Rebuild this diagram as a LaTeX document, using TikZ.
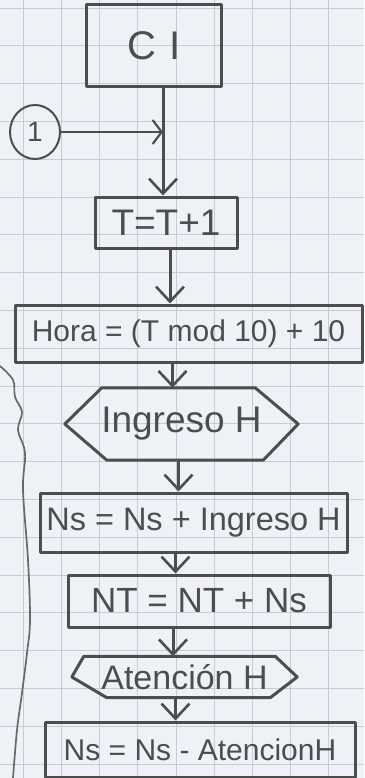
\documentclass[tikz,border=0pt]{standalone}
\usepackage{fontspec}
\setmainfont{Liberation Sans}
\usetikzlibrary{arrows.meta,shapes.geometric}
\definecolor{paper}{HTML}{EEF2F7}
\definecolor{gridc}{HTML}{C6CCD6}
\definecolor{pencil}{HTML}{4D4D4D}
\tikzset{
  pen/.style={draw=pencil, line width=3pt, line join=round, line cap=round},
  boxnode/.style={pen, rectangle, inner sep=0pt, text=pencil},
  hexnode/.style={rectangle, inner sep=0pt, text=pencil},
  arr/.style={pen, -{Straight Barb[length=15pt,width=28pt,line width=2.6pt]}},
  fs/.style={font=\fontsize{#1}{#1}\selectfont}
}
\begin{document}
\begin{tikzpicture}[x=1pt,y=-1pt]
\useasboundingbox (0,0) rectangle (364,778);
\fill[paper] (0,0) rectangle (364,778);
% graph paper
\foreach \k in {0,...,9} {\draw[gridc, line width=0.8pt] ({23.5+38.1*\k},0) -- ({23.5+38.1*\k},778);}
\foreach \k in {0,...,20} {\draw[gridc, line width=0.8pt] (0,{8+37.8*\k}) -- (364,{8+37.8*\k});}

% nodes
\node[boxnode, minimum width=135pt, minimum height=82pt, fs=40] (ci) at (154,46) {C\hspace{14pt}I};
\node[pen, ellipse, minimum width=50pt, minimum height=54pt, inner sep=0pt, text=pencil, fs=28, line width=2pt] (c1) at (35,132) {1};
\coordinate (j) at (163,132);
\node[boxnode, minimum width=142pt, minimum height=51pt, fs=37] (t1) at (166,222.5) {T=T+1};
\node[boxnode, minimum width=347pt, minimum height=57pt, fs=30] (hora) at (188.5,333.5) {Hora = (T mod 10) + 10};
\node[hexnode, minimum width=233pt, minimum height=72pt, fs=37] (ing) at (181.5,424) {Ingreso H};
\draw[pen] ([xshift=37pt]ing.north west) -- ([xshift=-43pt]ing.north east) -- (ing.east)
  -- ([xshift=-35pt]ing.south east) -- ([xshift=42pt]ing.south west) -- (ing.west) -- cycle;
\node[boxnode, minimum width=307pt, minimum height=59pt, fs=32.5] (ns1) at (193.5,522.5) {Ns = Ns + Ingreso H};
\node[boxnode, minimum width=262pt, minimum height=52pt, fs=35] (nt) at (199,601) {NT = NT + Ns};
\node[hexnode, minimum width=225pt, minimum height=41pt, fs=34] (at) at (184.5,677) {Atención H};
\draw[pen] ([xshift=12pt]at.north west) -- ([xshift=-22pt]at.north east) -- (at.east)
  -- ([xshift=-27pt]at.south east) -- ([xshift=35pt]at.south west) -- (at.west) -- cycle;
\node[boxnode, minimum width=310pt, minimum height=55pt, fs=30] (ns2) at (200,749.5) {Ns = Ns - AtencionH};
\coordinate (endc) at (172,778);

% connectors
\draw[pen] (ci.south -| j) -- (j);
\draw[pen, line width=2.4pt, -{Straight Barb[length=9pt,width=24pt,line width=2.2pt]}] (c1.east) -- (j);
\draw[arr] (j) -- (t1.north -| j);
\draw[arr] ([xshift=4pt]t1.south) -- ([xshift=4pt]t1.south |- hora.north);
\draw[arr] ([xshift=-16pt]hora.south) -- ([xshift=-16pt]hora.south |- ing.north);
\draw[arr] ([xshift=-3pt]ing.south) -- ([xshift=-3pt]ing.south |- ns1.north);
\draw[arr] ([xshift=-18pt]ns1.south) -- ([xshift=-18pt]ns1.south |- nt.north);
\draw[arr] ([xshift=-26pt]nt.south) -- ([xshift=-26pt]nt.south |- at.north);
\draw[arr] ([xshift=-9pt]at.south) -- ([xshift=-9pt]at.south |- ns2.north);
\draw[pen] (ns2.south -| endc) -- (endc);

% left brace stroke
\draw[pencil!85, line width=1.7pt] plot[smooth, tension=0.6] coordinates {(0,366) (13,380) (15,397) (22,412) (18,430) (25,453) (23,490) (28,560) (30,620) (27,653) (22,693) (17,730) (13,778)};
\end{tikzpicture}
\end{document}
